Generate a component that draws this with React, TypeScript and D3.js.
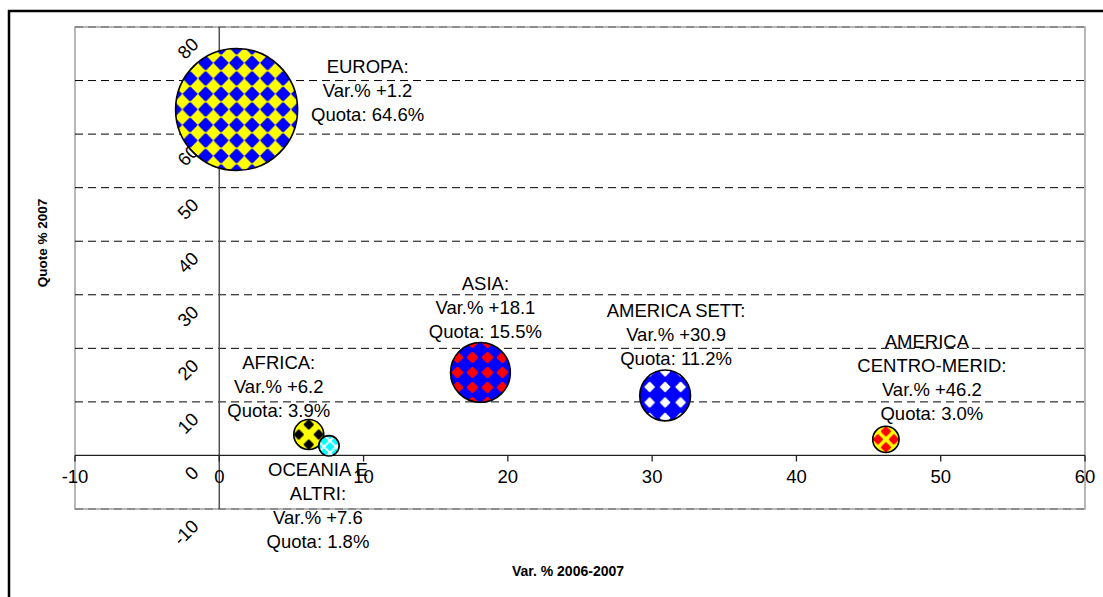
import React from "react";
import * as d3 from "d3";

// ---- data ----
const regions = ["EUROPA", "ASIA", "AMERICA SETT", "AMERICA CENTRO-MERID", "AFRICA", "OCEANIA E ALTRI"];
const varPct = [1.2, 18.1, 30.9, 46.2, 6.2, 7.6];
const quota = [64.6, 15.5, 11.2, 3.0, 3.9, 1.8];
const nameLines = [["EUROPA:"], ["ASIA:"], ["AMERICA SETT:"], ["AMERICA", "CENTRO-MERID:"], ["AFRICA:"], ["OCEANIA E", "ALTRI:"]];
const xTicks = [-10, 0, 10, 20, 30, 40, 50, 60];
const yTicks = [-10, 0, 10, 20, 30, 40, 50, 60, 70, 80];
const xTitle = "Var. % 2006-2007";
const yTitle = "Quote % 2007";

// ---- layout / style ----
const W = 1103, H = 597;
const plot = { left: 75, right: 1085, top: 27, bottom: 509 };
const FONT = "'Liberation Sans', Arial, sans-serif";
const FS = 18.5;
const labelOffsets: [number, number][] = [[131, -43], [5, -89], [11, -85], [46, -98], [-30, -72], [-11, 24]];
const firstLineShift = [0, 0, 0, -5, 0, 0];
const LINE_H = 24;

type Pat = { bg: string; fg: string; P: number; h: number; layout: "grid" | "quincunx"; ox: number; oy: number };
const patterns: Pat[] = [
  { bg: "#FFFF00", fg: "#0000FF", P: 15.5, h: 7.0, layout: "grid", ox: 0, oy: 0 },
  { bg: "#0000FF", fg: "#FF0000", P: 15, h: 5.6, layout: "grid", ox: 7, oy: 0 },
  { bg: "#0000FF", fg: "#FFFFFF", P: 15.5, h: 5.0, layout: "grid", ox: 0, oy: 7 },
  { bg: "#FFFF00", fg: "#FF0000", P: 16, h: 5.0, layout: "quincunx", ox: 8, oy: 0 },
  { bg: "#FFFF00", fg: "#000000", P: 20, h: 5.0, layout: "quincunx", ox: 0, oy: 10 },
  { bg: "#FFFFFF", fg: "#00FFFF", P: 12, h: 4.2, layout: "quincunx", ox: -5, oy: -5 },
];

function diamond(cx: number, cy: number, h: number) {
  const c = h * 0.12;
  return `M${cx - c},${cy - h}L${cx + c},${cy - h}L${cx + h},${cy - c}L${cx + h},${cy + c}L${cx + c},${cy + h}L${cx - c},${cy + h}L${cx - h},${cy + c}L${cx - h},${cy - c}Z`;
}

export default function App() {
  const x = d3.scaleLinear().domain([-10, 60]).range([plot.left, plot.right]);
  const y = d3.scaleLinear().domain([-10, 80]).range([plot.bottom, plot.top]);
  const r = d3.scaleSqrt().domain([0, 64.6]).range([0, 61]);

  const x0 = x(0);
  const y0 = y(0);

  const order = d3.range(regions.length).sort((a, b) => quota[b] - quota[a]);

  return (
    <svg width={W} height={H} style={{ position: "absolute", left: 0, top: 0, background: "#fff" }}>
      <defs>
        {patterns.map((p, i) => {
          const cx = x(varPct[i]) + p.ox;
          const cy = y(quota[i]) + p.oy;
          const d =
            p.layout === "grid"
              ? diamond(p.P / 2, p.P / 2, p.h)
              : diamond(0, 0, p.h) + diamond(p.P, 0, p.h) + diamond(0, p.P, p.h) + diamond(p.P, p.P, p.h) + diamond(p.P / 2, p.P / 2, p.h);
          return (
            <pattern
              key={i}
              id={`pat${i}`}
              patternUnits="userSpaceOnUse"
              width={p.P}
              height={p.P}
              x={cx - p.P / 2}
              y={cy - p.P / 2}
            >
              <rect width={p.P} height={p.P} fill={p.bg} />
              <path d={d} fill={p.fg} />
            </pattern>
          );
        })}
      </defs>

      {/* outer chart border */}
      <rect x={9} y={11} width={1300} height={800} fill="none" stroke="#000" strokeWidth={2.5} />

      {/* plot area border */}
      <rect
        x={plot.left}
        y={plot.top}
        width={plot.right - plot.left}
        height={plot.bottom - plot.top}
        fill="none"
        stroke="#A0A0A0"
        strokeWidth={1.5}
      />
      {[80, -10].map((v) => (
        <line key={v} x1={plot.left} x2={plot.right} y1={y(v)} y2={y(v)} stroke="#808080" strokeWidth={1.5} strokeDasharray="8,5" />
      ))}

      {/* gridlines */}
      {yTicks
        .filter((v) => v > 0 && v < 80)
        .map((v) => (
          <line key={v} x1={plot.left} x2={plot.right} y1={y(v)} y2={y(v)} stroke="#000" strokeWidth={1} strokeDasharray="8,5" />
        ))}

      {/* y axis */}
      <line x1={x0} x2={x0} y1={plot.top} y2={plot.bottom} stroke="#505050" strokeWidth={1.5} />
      {/* x axis */}
      <line x1={plot.left} x2={plot.right} y1={y0} y2={y0} stroke="#202020" strokeWidth={1.3} />
      {xTicks.map((v) => (
        <line key={v} x1={x(v)} x2={x(v)} y1={y0} y2={y0 + 6} stroke="#202020" strokeWidth={1.3} />
      ))}

      {/* x tick labels */}
      {xTicks.map((v) => (
        <text key={v} x={x(v)} y={y0 + 28} textAnchor="middle" fontFamily={FONT} fontSize={FS} fill="#000">
          {v}
        </text>
      ))}

      {/* y tick labels (rotated) */}
      {yTicks.map((v) => (
        <text
          key={v}
          transform={`translate(${x0 - 24},${y(v) + 14}) rotate(-45)`}
          textAnchor="end"
          dy="0.35em"
          fontFamily={FONT}
          fontSize={FS}
          fill="#000"
        >
          {v}
        </text>
      ))}

      {/* bubbles */}
      {order.map((i) => (
        <circle key={i} cx={x(varPct[i])} cy={y(quota[i])} r={r(quota[i])} fill={`url(#pat${i})`} stroke="#000" strokeWidth={1.6} />
      ))}

      {/* data labels */}
      {regions.map((name, i) => {
        const cx = x(varPct[i]) + labelOffsets[i][0];
        const cy = y(quota[i]) + labelOffsets[i][1];
        const lines = [...nameLines[i], `Var.% +${varPct[i].toFixed(1)}`, `Quota: ${quota[i].toFixed(1)}%`];
        return (
          <text key={name} fontFamily={FONT} fontSize={FS} textAnchor="middle" fill="#000">
            {lines.map((t, k) => (
              <tspan key={k} x={cx + (k === 0 ? firstLineShift[i] : 0)} y={cy + k * LINE_H} dy="0.35em">
                {t}
              </tspan>
            ))}
          </text>
        );
      })}

      {/* axis titles */}
      <text x={568} y={571} dy="0.35em" textAnchor="middle" fontFamily={FONT} fontSize={14} fontWeight="bold">
        {xTitle}
      </text>
      <text transform={`translate(42,243) rotate(-90)`} dy="0.35em" textAnchor="middle" fontFamily={FONT} fontSize={13.5} fontWeight="bold">
        {yTitle}
      </text>
    </svg>
  );
}
